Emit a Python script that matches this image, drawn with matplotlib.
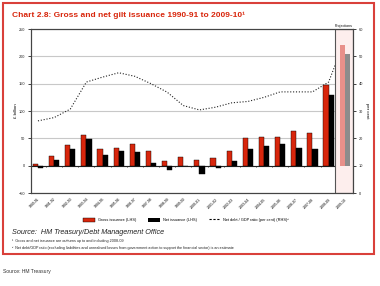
import matplotlib
matplotlib.use('Agg')
from matplotlib import pyplot as plt
from matplotlib.patches import Rectangle, Patch
from matplotlib.lines import Line2D
import numpy as np

plt.rcParams['font.family'] = ['Liberation Sans', 'DejaVu Sans']

# Data
years = ['1990-91', '1991-92', '1992-93', '1993-94', '1994-95', '1995-96', '1996-97',
         '1997-98', '1998-99', '1999-00', '2000-01', '2001-02', '2002-03', '2003-04',
         '2004-05', '2005-06', '2006-07', '2007-08', '2008-09', '2009-10']
gross = [3, 18.5, 37, 55.5, 31, 31.5, 39, 27, 9, 15.5, 10, 14, 27, 50, 52, 53, 63.5, 59, 148, 220]
net = [-4, 11, 30, 49, 20, 26.5, 25, 5.5, -8.5, 0, -15, -5, 9, 30, 36, 39, 33, 30, 129.5, 204]
debt = [26.4, 27.6, 30.7, 40.6, 42.4, 44, 42.7, 40, 36.9, 32, 30.4, 31.4, 33, 33.5, 35,
        37, 37, 37, 40.6, 56]
n_proj = 1  # last year is a projection

RED = '#d8260c'
BORDER = '#d9403a'

fig = plt.figure(figsize=(3.8, 2.86), dpi=100)
ax = fig.add_axes([0.0816, 0.325, 0.929 - 0.0816, 0.8986 - 0.325])
ax2 = ax.twinx()

x = np.arange(len(years))
n_out = len(years) - n_proj
w = 0.32

ax.set_xlim(-0.43, 19.51)
ax.set_ylim(-50, 250)
ax2.set_ylim(0, 60)

ax.set_yticks([-50, 0, 50, 100, 150, 200, 250])
ax.yaxis.grid(True, color='#c8c8c8', lw=0.8)
ax.set_axisbelow(True)

# outturn bars
ax.bar(x[:n_out] - w / 2, gross[:n_out], w, color=RED, edgecolor='black', lw=0.3, zorder=3)
ax.bar(x[:n_out] + w / 2, net[:n_out], w, color='black', edgecolor='black', lw=0.3, zorder=3)

# zero line with small ticks between years
ax.axhline(0, color='#222222', lw=0.8, zorder=1.5)
ax.vlines(x[:n_out - 1] + 0.5, -3, 0, color='#222222', lw=0.6, zorder=1.5)

# debt ratio on the right-hand scale
ax.plot(x, debt, color='#222222', lw=0.8, ls=(0, (1, 1.6)), transform=ax2.transData, zorder=1)

# projections box
ax.add_patch(Rectangle((18.38, -50), 19.51 - 18.38, 300, facecolor='#fdeeed',
                       edgecolor='#555555', lw=0.8, zorder=2))
ax.bar(x[n_out:] - w / 2, gross[n_out:], w, color='#e8908a', zorder=3)
ax.bar(x[n_out:] + w / 2, net[n_out:], w, color='#8c8c8c', zorder=3)
ax.text(18.95, 252, 'Projections', fontsize=2.6, ha='center', va='bottom')

ax.set_xticks(x)
ax.set_xticklabels(years, rotation=45, ha='right', rotation_mode='anchor', fontsize=2.5)
ax.tick_params(axis='x', length=0, pad=3)
ax.tick_params(axis='y', labelsize=2.8, length=2, width=0.6, pad=2, colors='#222222')
ax2.set_yticks([0, 10, 20, 30, 40, 50, 60])
ax2.tick_params(axis='y', labelsize=2.8, length=2, width=0.6, pad=2, colors='#222222')
for a in (ax, ax2):
    for s in a.spines.values():
        s.set_color('#444444')
        s.set_linewidth(0.8)

ax.set_ylabel('£ billion', fontsize=3.2, labelpad=1)
ax2.set_ylabel('per cent', fontsize=3.2, rotation=270, labelpad=4)

handles = [Patch(facecolor=RED, edgecolor='black', lw=0.3),
           Patch(facecolor='black'),
           Line2D([], [], color='black', lw=0.8, ls=(0, (2, 1.5)))]
labels = ['Gross issuance (LHS)', 'Net issuance (LHS)', 'Net debt / GDP ratio (per cent) (RHS)²']
fig.legend(handles, labels, loc='center', bbox_to_anchor=(0.49, 0.231), ncol=3,
           frameon=False, fontsize=2.8, handlelength=3, handleheight=1.2, columnspacing=3)

fig.text(12 / 380, 1 - 15 / 286, 'Chart 2.8: Gross and net gilt issuance 1990-91 to 2009-10¹',
         color=RED, fontsize=6.0, fontweight='bold', va='center')
fig.text(12 / 380, 1 - 233 / 286, 'Source:  HM Treasury/Debt Management Office',
         fontsize=5.2, style='italic', va='center', color='#222222')
fig.text(12 / 380, 1 - 241 / 286, '¹  Gross and net issuance are outturns up to and including 2008-09',
         fontsize=2.7, va='center', color='#222222')
fig.text(12 / 380, 1 - 248 / 286,
         '²  Net debt/GDP ratio (excluding liabilities and unrealised losses from government action '
         'to support the financial sector) is an estimate',
         fontsize=2.7, va='center', color='#222222')
fig.text(3 / 380, 1 - 272 / 286, 'Source: HM Treasury', fontsize=3.6, va='center', color='#333333')

fig.patches.append(Rectangle((3 / 380, 1 - 254 / 286), 371 / 380, 251 / 286,
                             transform=fig.transFigure, fill=False, edgecolor=BORDER, lw=1.5))

fig.savefig('out.png', dpi=100)
